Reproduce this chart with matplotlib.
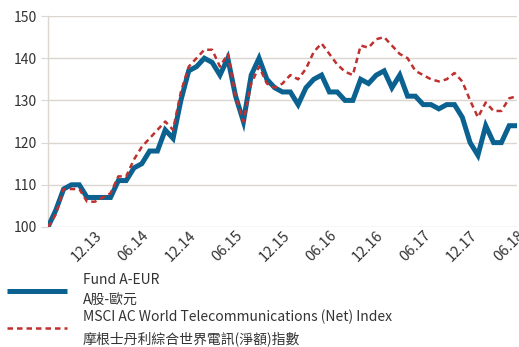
import matplotlib
matplotlib.use("Agg")
import matplotlib.pyplot as plt

plt.rcParams['font.family'] = ['Noto Sans CJK TC', 'DejaVu Sans']

# Monthly indexed performance (start = 100)
fund = [100, 104, 109, 110, 110, 107, 107, 107, 107, 111,
        111, 114, 115, 118, 118, 123, 121, 130, 137, 138,
        140, 139, 136, 140, 131, 125, 136, 140, 135, 133,
        132, 132, 129, 133, 135, 136, 132, 132, 130, 130,
        135, 134, 136, 137, 133, 136, 131, 131, 129, 129,
        128, 129, 129, 126, 120, 117, 124, 120, 120, 124,
        124]
index = [100, 103, 109, 109, 109, 106, 106, 107, 108, 112,
         112, 116, 119, 121, 123, 125, 123, 132, 138, 140,
         142, 142, 138, 141, 131, 125, 134, 138, 134, 133,
         134, 136, 135, 137.5, 141.5, 143.5, 141, 138.5, 136.8, 136,
         143, 142.5, 144.5, 145, 143, 141, 140, 137, 136, 135,
         134.5, 135, 136.5, 134.5, 130, 126, 129.5, 127.5, 127.5, 130.5,
         131]

tick_pos = [6, 12, 18, 24, 30, 36, 42, 48, 54, 60]
tick_labels = ["12.13", "06.14", "12.14", "06.15", "12.15",
               "06.16", "12.16", "06.17", "12.17", "06.18"]
y_ticks = [100, 110, 120, 130, 140, 150]

fund_label = "Fund A-EUR\nA股-歐元"
index_label = "MSCI AC World Telecommunications (Net) Index\n摩根士丹利綜合世界電訊(淨額)指數"

blue = "#0b6190"
red = "#c0302f"
grid_c = "#dcd6d0"
text_c = "#333333"

fig = plt.figure(figsize=(5.19, 3.47), dpi=100)
ax = fig.add_axes([48 / 519, 1 - 227 / 347, (517 - 48) / 519, (227 - 16) / 347])

x = list(range(len(fund)))
l_fund, = ax.plot(x, fund, color=blue, lw=3.6, solid_joinstyle='miter',
                  solid_capstyle='butt', zorder=3)
l_index, = ax.plot(x, index, color=red, lw=1.8, dashes=(2.2, 1.6), zorder=4)

ax.set_xlim(0, 60)
ax.set_ylim(100, 150)
ax.set_yticks(y_ticks)
ax.set_xticks(tick_pos)
ax.set_xticklabels(tick_labels, rotation=45, ha='right', va='top',
                   rotation_mode='anchor', fontsize=10.5, color=text_c)
ax.tick_params(axis='y', labelsize=10, labelcolor=text_c, length=5,
               color=grid_c, pad=3)
ax.tick_params(axis='x', length=0, pad=1)
ax.grid(axis='y', color=grid_c, lw=1)
ax.set_axisbelow(True)
for side in ['top', 'right', 'bottom']:
    ax.spines[side].set_visible(False)
ax.spines['left'].set_color(grid_c)
ax.spines['left'].set_linewidth(1)

leg = fig.legend([l_fund, l_index], [fund_label, index_label],
                 loc='upper left', bbox_to_anchor=(7 / 519, 1 - 273 / 347),
                 frameon=False, fontsize=10, labelcolor=text_c,
                 handlelength=4.3, handletextpad=1.15, borderpad=0,
                 borderaxespad=0, labelspacing=0.2)
for t in leg.get_texts():
    t.set_linespacing(1.55)

fig.savefig("out.png", dpi=100)
